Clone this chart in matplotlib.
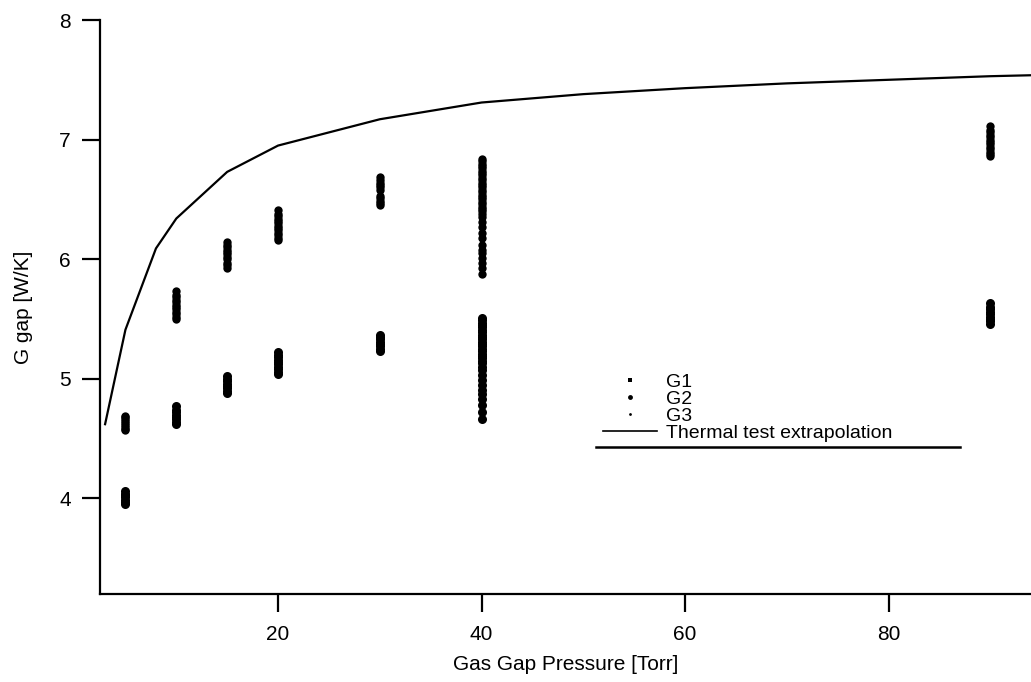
import numpy as np
import matplotlib
matplotlib.use("Agg")
import matplotlib.pyplot as plt
from matplotlib.lines import Line2D

plt.rcParams['font.family'] = ['Liberation Sans', 'DejaVu Sans']
plt.rcParams['font.size'] = 15

# thermal test extrapolation curve
fit_p = [3, 5, 8, 10, 15, 20, 30, 40, 50, 60, 70, 80, 90, 100]
fit_g = [4.62, 5.41, 6.09, 6.34, 6.73, 6.95, 7.17, 7.31, 7.38, 7.43, 7.47, 7.50, 7.53, 7.55]

# G1 readings (upper branch), per pressure [Torr]
g1 = {
    5: [4.57, 4.58, 4.60, 4.61, 4.63, 4.65, 4.66, 4.68, 4.69],
    10: [5.50, 5.52, 5.54, 5.56, 5.58, 5.60, 5.62, 5.64, 5.66, 5.68, 5.70, 5.73],
    15: [5.93, 5.95, 5.97, 6.00, 6.02, 6.04, 6.06, 6.08, 6.10, 6.12, 6.14],
    20: [6.16, 6.18, 6.20, 6.22, 6.24, 6.26, 6.28, 6.30, 6.32, 6.34, 6.36, 6.38, 6.41],
    30: [6.45, 6.47, 6.49, 6.51, 6.53, 6.58, 6.60, 6.62, 6.64, 6.66, 6.69],
    40: [5.88, 5.93, 5.97, 6.01, 6.05, 6.08, 6.12, 6.18, 6.22, 6.27, 6.31, 6.35,
         6.38, 6.40, 6.42, 6.44, 6.46, 6.48, 6.50, 6.52, 6.54, 6.56, 6.58, 6.60,
         6.62, 6.64, 6.66, 6.68, 6.70, 6.72, 6.74, 6.76, 6.78, 6.80, 6.82, 6.84],
    90: [6.86, 6.88, 6.90, 6.92, 6.94, 6.96, 6.98, 7.00, 7.02, 7.04, 7.06, 7.08, 7.11],
}

# G2 readings (lower branch)
g2 = {
    5: [3.95, 3.97, 3.99, 4.01, 4.03, 4.04, 4.06],
    10: [4.62, 4.64, 4.66, 4.68, 4.70, 4.72, 4.74, 4.77],
    15: [4.88, 4.90, 4.92, 4.94, 4.96, 4.98, 5.00, 5.02],
    20: [5.04, 5.06, 5.08, 5.10, 5.12, 5.14, 5.16, 5.18, 5.20, 5.22],
    30: [5.23, 5.25, 5.27, 5.29, 5.31, 5.33, 5.35, 5.37],
    40: [4.66, 4.72, 4.78, 4.83, 4.87, 4.91, 4.95, 4.99, 5.03, 5.07, 5.10, 5.13,
         5.15, 5.17, 5.19, 5.21, 5.23, 5.25, 5.27, 5.29, 5.31, 5.33, 5.35, 5.37,
         5.39, 5.41, 5.43, 5.45, 5.47, 5.49, 5.51],
    90: [5.46, 5.48, 5.50, 5.52, 5.54, 5.56, 5.58, 5.60, 5.63],
}

# G3 readings (sparse)
g3 = {
    40: [4.75, 4.85, 5.95, 6.15, 6.25],
}


def flat(d):
    xs, ys = [], []
    for p, vals in d.items():
        xs += [p] * len(vals)
        ys += vals
    return xs, ys


fig = plt.figure(figsize=(10.31, 6.82), dpi=100)
ax = fig.add_axes([100 / 1031, 88 / 682, 931 / 1031, 574 / 682])

ax.plot(fit_p, fit_g, color='black', lw=1.6, label='Thermal test extrapolation')
x1, y1 = flat(g1)
x2, y2 = flat(g2)
x3, y3 = flat(g3)
ax.plot(x1, y1, 'o', color='black', ms=6, mew=0, label='G1')
ax.plot(x2, y2, 'o', color='black', ms=6.5, mew=0, label='G2')
ax.plot(x3, y3, 'o', color='black', ms=3, mew=0, label='G3')

ax.set_xlim(2.5, 94)
ax.set_ylim(3.2, 8)
ax.set_xticks([20, 40, 60, 80])
ax.set_yticks([4, 5, 6, 7, 8])
for s in ['top', 'right']:
    ax.spines[s].set_visible(False)
for s in ['left', 'bottom']:
    ax.spines[s].set_linewidth(1.6)
ax.tick_params(direction='out', length=13, width=1.6, labelsize=15)
ax.tick_params(axis='x', pad=9)
ax.tick_params(axis='y', pad=8)
ax.set_xlabel('Gas Gap Pressure [Torr]', fontsize=15, labelpad=8)
ax.set_ylabel('G gap [W/K]', fontsize=15, labelpad=19)

handles = [
    Line2D([], [], ls='none', marker='s', ms=3, color='black', mew=0),
    Line2D([], [], ls='none', marker='o', ms=3.5, color='black', mew=0),
    Line2D([], [], ls='none', marker='o', ms=2, color='black', mew=0),
    Line2D([], [], color='black', lw=1.2),
]
ax.legend(handles, ['G1', 'G2', 'G3', 'Thermal test extrapolation'],
          loc='upper left', bbox_to_anchor=(603 / 1031, 1 - 373 / 682),
          bbox_transform=fig.transFigure, frameon=False, borderpad=0,
          borderaxespad=0, labelspacing=-0.02, handlelength=2.8,
          handletextpad=0.45, fontsize=14)
fig.add_artist(Line2D([596 / 1031, 960 / 1031], [1 - 447 / 682, 1 - 447 / 682],
                      color='black', lw=1.8, transform=fig.transFigure))

fig.savefig('out.png', dpi=100)
